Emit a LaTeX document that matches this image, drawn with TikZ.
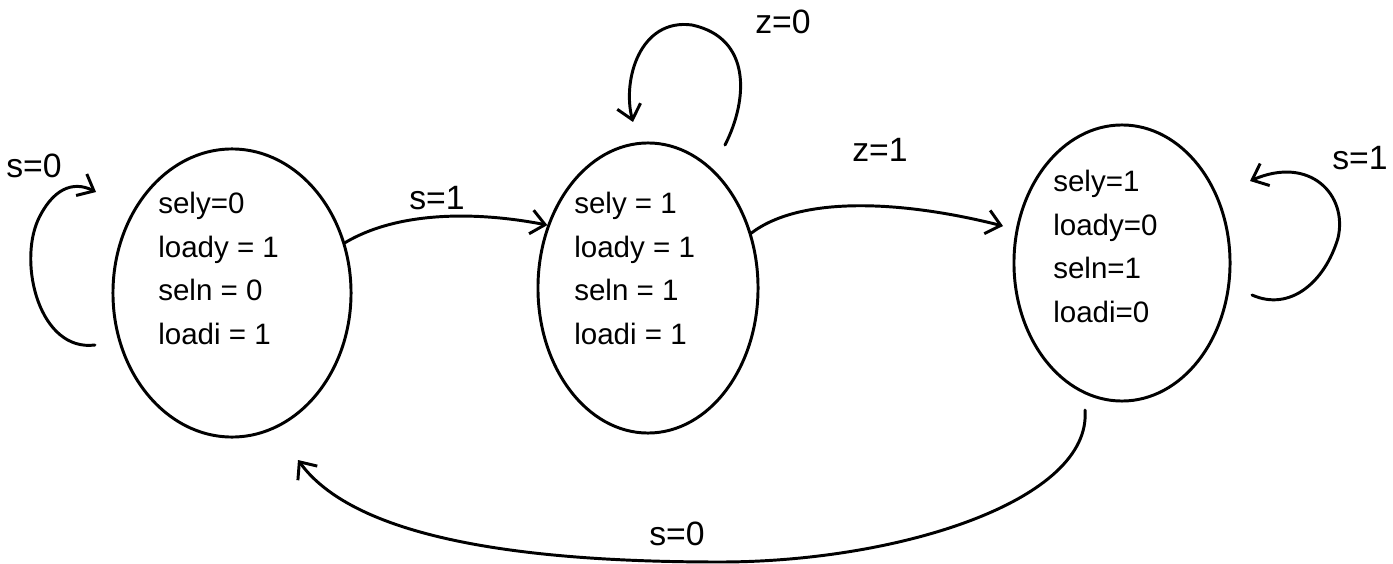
\documentclass[tikz,border=0pt]{standalone}
\usepackage{fontspec}
\setmainfont{Liberation Sans}
\usetikzlibrary{shapes.geometric,arrows.meta}
\tikzset{
  statebox/.style={draw, ellipse, line width=2.1pt, inner sep=0pt},
  statetext/.style={align=left, font=\fontsize{21}{31}\selectfont, anchor=north west, inner sep=0pt},
  conn/.style={line width=2.1pt, -{Straight Barb[length=3.5mm,width=6mm,line width=2.1pt]}, line cap=round},
  lbl/.style={font=\fontsize{24}{28}\selectfont, inner sep=0pt}
}
\begin{document}
\begin{tikzpicture}[x=0.025cm,y=-0.025cm]
\useasboundingbox (0,0) rectangle (1393,564);
% states
\node[statebox, minimum width=5.95cm, minimum height=7.2cm] (s1) at (232,293) {};
\node[statebox, minimum width=5.5cm, minimum height=7.25cm] (s2) at (648,288) {};
\node[statebox, minimum width=5.4cm, minimum height=6.9cm] (s3) at (1122,263) {};
\node[statetext] (t1) at (158,192) {sely=0\\loady = 1\\seln = 0\\loadi = 1};
\node[statetext] (t2) at (574,192) {sely = 1\\loady = 1\\seln = 1\\loadi = 1};
\node[statetext] (t3) at (1053,170) {sely=1\\loady=0\\seln=1\\loadi=0};
% free ends
\coordinate (l1a) at (95,345);
\coordinate (l1b) at (96,192);
\coordinate (l2a) at (725,145);
\coordinate (l2b) at (633,122);
\coordinate (l3a) at (1252,295);
\coordinate (l3b) at (1250,181);
\coordinate (b3) at (1085,410);
\coordinate (b1) at (298,460);
\coordinate (e23) at (1003,226);
% connectors
\draw[conn] (s1.24) .. controls (400,210) and (480,212) .. (s2.148);
\draw[conn] (s2.28) .. controls (800,196) and (900,200) .. (e23);
\draw[conn] (l1a) .. controls (40,352) and (18,265) .. (38,220) .. controls (52,190) and (72,180) .. (l1b);
\draw[conn] (l2a) .. controls (748,100) and (752,38) .. (692,25) .. controls (640,18) and (622,80) .. (l2b);
\draw[conn] (l3a) .. controls (1290,312) and (1325,282) .. (1338,238) .. controls (1348,195) and (1310,155) .. (l3b);
\draw[conn] (b3) .. controls (1092,500) and (900,562) .. (720,562) .. controls (550,562) and (360,545) .. (b1);
% labels
\node[lbl] (ls1) at (34,166) {s=0};
\node[lbl] (ls2) at (437,198) {s=1};
\node[lbl] (lz0) at (783,22) {z=0};
\node[lbl] (lz1) at (880,150) {z=1};
\node[lbl] (ls3) at (1360,158) {s=1};
\node[lbl] (ls4) at (677,534) {s=0};
\end{tikzpicture}
\end{document}
